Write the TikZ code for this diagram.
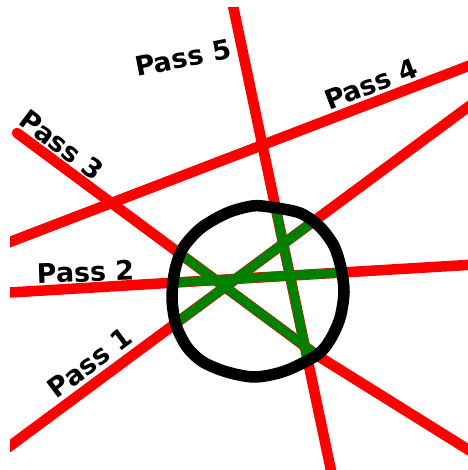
\documentclass[tikz,border=0pt]{standalone}
\usepackage{fontspec}
\setmainfont{DejaVu Sans}
\usetikzlibrary{positioning}

% outline of the hand drawn target
\def\rimshape{plot[smooth cycle] coordinates {(270,207) (300,213) (320,227) (334,246) (341,268) (344,292) (340,318) (330,340) (317,355) (285,371) (255,377) (227,372) (203,362) (187,347) (176,325) (172,298) (175,270) (183,248) (201,228) (227,213) (252,206)}}

\begin{document}
\begin{tikzpicture}[
    x=1bp, y=-1bp,
    redpass/.style={draw=red, line width=10.5bp},
    greenpass/.style={draw=green!50!black, line width=9.5bp},
    rim/.style={draw=black, line width=11.5bp},
    passlabel/.style={font=\fontsize{27}{32}\selectfont\bfseries, inner sep=0pt}
]
\useasboundingbox (0,0) rectangle (468,470);

% ends of the five passes
\coordinate (p1a) at (0,453.4);
\coordinate (p1b) at (480,98.2);
\coordinate (p2a) at (0,293.1);
\coordinate (p2b) at (480,264.2);
\coordinate (p3a) at (17,133);
\coordinate (p3k) at (318,356);
\coordinate (p3b) at (480,457);
\coordinate (p4a) at (0,245.8);
\coordinate (p4b) at (480,61.5);
\coordinate (p5a) at (231.8,0);
\coordinate (p5b) at (333,480);

% red passes
\begin{scope}
  \clip (10,8) rectangle (468,470);
  \draw[redpass] (p1a) -- (p1b);
  \draw[redpass] (p2a) -- (p2b);
  \draw[redpass, line cap=round] (p3a) -- (p3k) -- (p3b);
  \draw[redpass] (p4a) -- (p4b);
  \draw[redpass] (p5a) -- (p5b);
\end{scope}

% green chords inside the target
\begin{scope}
  \clip \rimshape;
  \draw[greenpass] (p1a) -- (p1b);
  \draw[greenpass] (p2a) -- (p2b);
  \draw[greenpass] (p3a) -- (p3k) -- (p3b);
  \draw[greenpass] (p5a) -- (p5b);
\end{scope}

\draw[rim] \rimshape;

% labels
\node[passlabel, rotate=37] (lab1) at (90,363) {Pass 1};
\node[passlabel, rotate=2] (lab2) at (85.5,272) {Pass 2};
\node[passlabel, rotate=-37] (lab3) at (62,145) {Pass 3};
\node[passlabel, rotate=21] (lab4) at (371,84) {Pass 4};
\node[passlabel, rotate=11] (lab5) at (183,58) {Pass 5};

\end{tikzpicture}
\end{document}
